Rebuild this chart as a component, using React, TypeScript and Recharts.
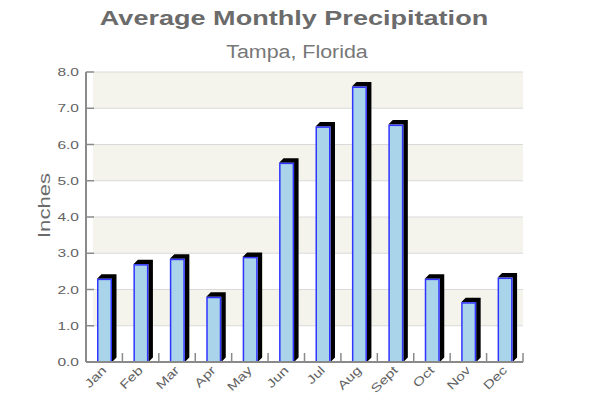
import React from 'react';
import { BarChart, Bar, XAxis, YAxis, CartesianGrid } from 'recharts';

const months = ['Jan', 'Feb', 'Mar', 'Apr', 'May', 'Jun', 'Jul', 'Aug', 'Sept', 'Oct', 'Nov', 'Dec'];
const inches = [2.3, 2.7, 2.85, 1.8, 2.9, 5.5, 6.5, 7.6, 6.55, 2.3, 1.65, 2.33];
const yTicks = [0, 1, 2, 3, 4, 5, 6, 7, 8];
const yMinorTicks = [0.5, 1.5, 2.5, 3.5, 4.5, 5.5, 6.5, 7.5];
const titleText = 'Average Monthly Precipitation';
const subtitleText = 'Tampa, Florida';
const yLabelText = 'Inches';

const data = months.map((m, i) => ({ month: m, inches: inches[i] }));

const W = 584;
const H = 392;
const MARGIN = { top: 64, right: 69, bottom: 8, left: 38 };
const Y_AXIS_W = 40;
const X_AXIS_H = 30;
const PLOT_LEFT = MARGIN.left + Y_AXIS_W;
const PLOT_W = W - PLOT_LEFT - MARGIN.right;
const BAND = PLOT_W / months.length;
const GRID_INSET = 7;
const FONT = '"Liberation Sans", Arial, Helvetica, sans-serif';
const TEXT_COLOR = '#626262';
const AXIS_COLOR = '#8a8a8a';

const YTick = (props: any) => {
  const { x, y, payload } = props;
  return (
    <g>
      <line x1={x} x2={x + 8} y1={y} y2={y} stroke={AXIS_COLOR} strokeWidth={1.5} />
      <text
        transform={`translate(${x - 7},${y}) scale(1.35,1)`}
        textAnchor="end"
        dy="0.36em"
        fontSize={11.5}
        fontFamily={FONT}
        fill={TEXT_COLOR}
      >
        {Number(payload.value).toFixed(1)}
      </text>
    </g>
  );
};

const YMinorTick = (props: any) => {
  const { x, y } = props;
  return <line x1={x} x2={x + 5} y1={y} y2={y} stroke={AXIS_COLOR} strokeWidth={1.5} />;
};

const XTick = (props: any) => {
  const { x, y, payload } = props;
  const bx = x + BAND / 2;
  return (
    <g>
      <line x1={bx} x2={bx} y1={y} y2={y - 9} stroke={AXIS_COLOR} strokeWidth={1.5} />
      <text
        transform={`translate(${x + 3},${y + 9}) rotate(-45) scale(1.3,1)`}
        textAnchor="end"
        fontSize={12}
        fontFamily={FONT}
        fill={TEXT_COLOR}
      >
        {payload.value}
      </text>
    </g>
  );
};

const Bar3D = (props: any) => {
  const { x, y, width, height } = props;
  if (height == null || height <= 0) return null;
  const d = 4.5;
  const side = [
    [x, y],
    [x + d, y - d],
    [x + width + d, y - d],
    [x + width + d, y + height - d],
    [x + width, y + height],
    [x + width, y],
  ]
    .map((p) => p.join(','))
    .join(' ');
  return (
    <g>
      <polygon points={side} fill="#000000" />
      <rect
        x={x + 0.75}
        y={y + 0.75}
        width={width - 1.5}
        height={height - 0.75}
        fill="#a9d4ea"
        stroke="#2f35ff"
        strokeWidth={1.5}
      />
    </g>
  );
};

export default function App() {
  return (
    <div style={{ position: 'relative', width: W, height: H }}>
      <BarChart width={W} height={H} data={data} margin={MARGIN} barSize={15} style={{ overflow: 'visible' }}>
        <CartesianGrid
          x={PLOT_LEFT + GRID_INSET}
          width={PLOT_W - GRID_INSET}
          vertical={false}
          stroke="#dadada"
          horizontalFill={['#f4f3ec', '#ffffff']}
        />
        <YAxis
          yAxisId="minor"
          orientation="left"
          width={0}
          domain={[0, 8]}
          ticks={yMinorTicks}
          interval={0}
          axisLine={false}
          tickLine={false}
          tickSize={0}
          tickMargin={0}
          tick={<YMinorTick />}
        />
        <YAxis
          width={Y_AXIS_W}
          domain={[0, 8]}
          ticks={yTicks}
          interval={0}
          axisLine={{ stroke: AXIS_COLOR, strokeWidth: 2 }}
          tickLine={false}
          tickSize={0}
          tickMargin={0}
          tick={<YTick />}
        />
        <XAxis
          dataKey="month"
          height={X_AXIS_H}
          interval={0}
          axisLine={{ stroke: AXIS_COLOR, strokeWidth: 2 }}
          tickLine={false}
          tickSize={0}
          tickMargin={0}
          tick={<XTick />}
        />
        <Bar dataKey="inches" fill="#a9d4ea" shape={<Bar3D />} isAnimationActive={false} />
      </BarChart>
      <svg
        width={W}
        height={H}
        style={{ position: 'absolute', left: 0, top: 0, pointerEvents: 'none', overflow: 'visible' }}
      >
        <text
          transform="translate(286,17) scale(1.32,1)"
          textAnchor="middle"
          fontSize={20.5}
          fontWeight="bold"
          fontFamily={FONT}
          fill="#6b6b6b"
        >
          {titleText}
        </text>
        <text
          transform="translate(289,50) scale(1.19,1)"
          textAnchor="middle"
          fontSize={18}
          fontFamily={FONT}
          fill="#777777"
        >
          {subtitleText}
        </text>
        <text
          transform="translate(42,197.5) rotate(-90) scale(1.3,1)"
          textAnchor="middle"
          fontSize={17}
          fontFamily={FONT}
          fill="#6b6b6b"
        >
          {yLabelText}
        </text>
      </svg>
    </div>
  );
}
